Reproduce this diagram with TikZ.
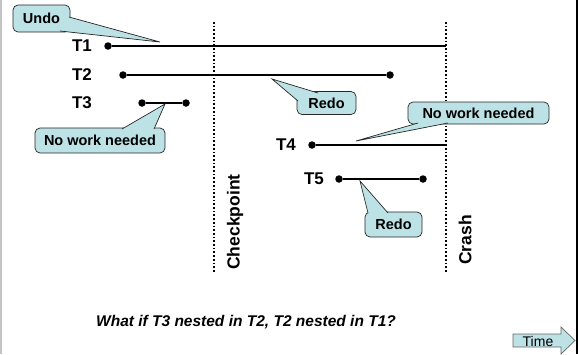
\documentclass[tikz,border=0pt]{standalone}
\usepackage{fontspec}
\setmainfont{Liberation Sans}
\usetikzlibrary{calc}
\definecolor{callfill}{HTML}{BDE2E6}
\definecolor{edgegray}{HTML}{C4C4C4}
\begin{document}
\begin{tikzpicture}[x=1pt,y=-1pt,
  tlabel/.style={font=\fontsize{17}{20}\selectfont\bfseries, inner sep=0pt},
  dotn/.style={circle, fill=black, inner sep=0pt, minimum size=7.5pt},
  tline/.style={line width=1.3pt},
  callbox/.style={draw=black!85, fill=callfill, rounded corners=5pt, line width=0.7pt,
                  font=\fontsize{14.5}{16}\selectfont\bfseries, inner sep=0pt},
  callptr/.style={draw=black!85, line width=0.7pt},
  vdots/.style={dotted, line width=1.7pt},
  vlabel/.style={font=\fontsize{17.5}{20}\selectfont\bfseries, rotate=90, inner sep=0pt},
]
\useasboundingbox (0,0) rectangle (578,354);
% frame
\draw[edgegray, line width=1.5pt] (0.75,0) -- (0.75,354);
\draw[black, line width=2pt] (576.5,0) -- (576.5,354);

% vertical dotted lines
\coordinate (cpT) at (214,22);
\coordinate (cpB) at (214,273);
\coordinate (crT) at (446,22);
\coordinate (crB) at (446,272);
\draw[vdots] (cpT) -- (cpB);
\draw[vdots] (crT) -- (crB);
\node[vlabel] (cpl) at (235,222) {Checkpoint};
\node[vlabel] (crl) at (465,240) {Crash};

% transactions
\node[tlabel] (t1) at (82,46) {T1};
\node[dotn] (t1a) at (108,46) {};
\coordinate (t1b) at (446,46);
\draw[tline] (t1a) -- (t1b);

\node[tlabel] (t2) at (82,75) {T2};
\node[dotn] (t2a) at (123,75) {};
\node[dotn] (t2b) at (390,75) {};
\draw[tline] (t2a) -- (t2b);

\node[tlabel] (t3) at (82,103) {T3};
\node[dotn] (t3a) at (142,103) {};
\node[dotn] (t3b) at (186,103) {};
\draw[tline] (t3a) -- (t3b);

\node[tlabel] (t4) at (286,145) {T4};
\node[dotn] (t4a) at (312,145) {};
\coordinate (t4b) at (446,145);
\draw[tline] (t4a) -- (t4b);

\node[tlabel] (t5) at (314,179) {T5};
\node[dotn] (t5a) at (339,179) {};
\node[dotn] (t5b) at (423,179) {};
\draw[tline] (t5a) -- (t5b);

% callouts
% Undo
\node[callbox, minimum width=57pt, minimum height=27pt] (undo) at (41.5,18.5) {Undo};
\coordinate (u1) at (69,17);
\coordinate (u2) at (60,31);
\coordinate (utip) at (160,42);
\fill[callfill] (u1) -- (utip) -- (u2) -- cycle;
\draw[callptr] (u1) -- (utip) -- (u2);

% No work needed (left)
\node[callbox, minimum width=130pt, minimum height=25pt] (nw1) at (100,140.5) {No work needed};
\coordinate (n1) at (122,129);
\coordinate (n2) at (154,129);
\coordinate (ntip) at (165,104);
\fill[callfill] (n1) -- (ntip) -- (n2) -- cycle;
\draw[callptr] (n1) -- (ntip) -- (n2);

% Redo (upper)
\node[callbox, minimum width=59pt, minimum height=23pt] (redo1) at (326.5,103) {Redo};
\coordinate (r1) at (298,101);
\coordinate (r2) at (318,93);
\coordinate (rtip) at (272,79);
\fill[callfill] (r1) -- (rtip) -- (r2) -- cycle;
\draw[callptr] (r1) -- (rtip) -- (r2);

% No work needed (right)
\node[callbox, minimum width=141pt, minimum height=22pt] (nw2) at (478.5,113) {No work needed};
\coordinate (m1) at (418,123);
\coordinate (m2) at (448,123);
\coordinate (mtip) at (356,141);
\fill[callfill] (m1) -- (mtip) -- (m2) -- cycle;
\draw[callptr] (m1) -- (mtip) -- (m2);

% Redo (lower)
\node[callbox, minimum width=57pt, minimum height=25pt] (redo2) at (393.5,224.5) {Redo};
\coordinate (s1) at (368,213);
\coordinate (s2) at (388,213);
\coordinate (stip) at (360,181);
\fill[callfill] (s1) -- (stip) -- (s2) -- cycle;
\draw[callptr] (s1) -- (stip) -- (s2);

% question
\node[font=\fontsize{15.5}{18}\selectfont\bfseries\itshape, inner sep=0pt] (q) at (246,322)
  {What if T3 nested in T2, T2 nested in T1?};

% time arrow
\filldraw[fill=callfill, draw=black!60, line width=0.7pt]
  (513,334) -- (561,334) -- (561,327) -- (575,340.5) -- (561,354) -- (561,347) -- (513,347) -- cycle;
\node[font=\fontsize{14}{16}\selectfont, inner sep=0pt] (time) at (538,341) {Time};
\end{tikzpicture}
\end{document}
